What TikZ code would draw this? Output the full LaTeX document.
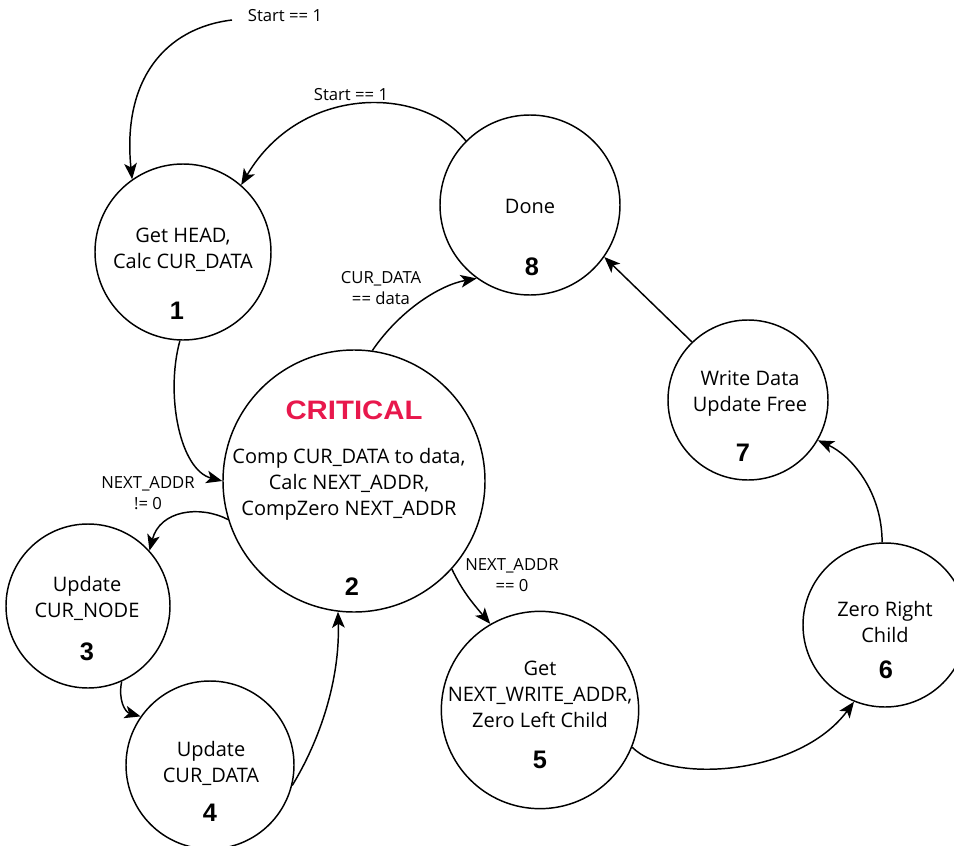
\documentclass[tikz,border=0pt]{standalone}
\usepackage{fontspec}
\setmainfont{Open Sans}
\newfontfamily\numfont{Liberation Sans}
\newfontfamily\critfont[FakeStretch=1.1]{Liberation Sans}
\usetikzlibrary{arrows.meta}

\definecolor{critred}{RGB}{232,24,76}

\begin{document}
\begin{tikzpicture}[x=0.75pt,y=-0.75pt,
  statecirc/.style={draw, circle, line width=1.1pt, inner sep=0pt, minimum size=#1},
  body/.style={align=center, font=\fontsize{15}{19.5}\selectfont, inner sep=0pt},
  num/.style={font=\numfont\bfseries\fontsize{19}{19}\selectfont, inner sep=0pt},
  lbl/.style={align=center, font=\fontsize{12.5}{16}\selectfont, inner sep=0pt},
  conn/.style={line width=1.1pt, -{Stealth[length=12pt,width=9.5pt,inset=3pt]}}
]
\useasboundingbox (0,0) rectangle (954,846);

% states
\node[statecirc=132pt] (s1) at (183,252) {};
\node[statecirc=196.5pt] (s2) at (354,481) {};
\node[statecirc=123pt] (s3) at (88,606) {};
\node[statecirc=126pt] (s4) at (210,765) {};
\node[statecirc=148pt] (s5) at (540,710) {};
\node[statecirc=123pt] (s6) at (885,625) {};
\node[statecirc=120pt] (s7) at (748,400) {};
\node[statecirc=135pt] (s8) at (530,205) {};

% state texts
\node[body] (t1) at (183,250) {Get HEAD,\\Calc CUR\_DATA};
\node[num] (n1) at (177,311) {1};
\node[font=\critfont\bfseries\fontsize{20}{20}\selectfont, text=critred, inner sep=0pt] (crit) at (354,410) {CRITICAL};
\node[body] (t2) at (349,484) {Comp CUR\_DATA to data,\\Calc NEXT\_ADDR,\\CompZero NEXT\_ADDR};
\node[num] (n2) at (352,587) {2};
\node[body] (t3) at (87,598) {Update\\CUR\_NODE};
\node[num] (n3) at (87,652) {3};
\node[body] (t4) at (211,763) {Update\\CUR\_DATA};
\node[num] (n4) at (210,813) {4};
\node[body] (t5) at (540,694) {Get\\NEXT\_WRITE\_ADDR,\\Zero Left Child};
\node[num] (n5) at (540,760) {5};
\node[body] (t6) at (885,622) {Zero Right\\Child};
\node[num] (n6) at (886,670) {6};
\node[body] (t7) at (750,394) {Write Data\\Update Free};
\node[num] (n7) at (743,453) {7};
\node[body] (t8) at (530,206) {Done};
\node[num] (n8) at (532,267) {8};

% transitions
\coordinate (start) at (232,20);
\node[lbl] (l0) at (285,16) {Start == 1};
\draw[conn] (start) .. controls (165,28) and (122,80) .. (s1.125);

\draw[conn] (s8.135) .. controls (420,85) and (300,85) .. (s1.49);
\node[lbl] (l1) at (351,95) {Start == 1};

\draw[conn] (s1.268) .. controls (165,395) and (180,470) .. (s2.180);

\draw[conn] (s2.197) .. controls (200,505) and (160,510) .. (s3.42);
\node[lbl] (l2) at (148,493) {NEXT\_ADDR\\!= 0};

\draw[conn] (s3.294) .. controls (118,700) and (125,712) .. (s4.145);

\draw[conn] (s4.346) .. controls (320,740) and (340,680) .. (s2.263);

\draw[conn] (s2.82) .. controls (400,310) and (440,285) .. (s8.234);
\node[lbl] (l3) at (381,288) {CUR\_DATA\\== data};

\draw[conn] (s2.318) .. controls (462,590) and (470,600) .. (s5.120);
\node[lbl] (l4) at (512,575) {NEXT\_ADDR\\== 0};

\draw[conn] (s5.338) .. controls (670,785) and (800,775) .. (s6.248);

\draw[conn] (s6.92) .. controls (882,490) and (850,455) .. (s7.330);

\draw[conn] (s7.134) -- (s8.325);
\end{tikzpicture}
\end{document}
